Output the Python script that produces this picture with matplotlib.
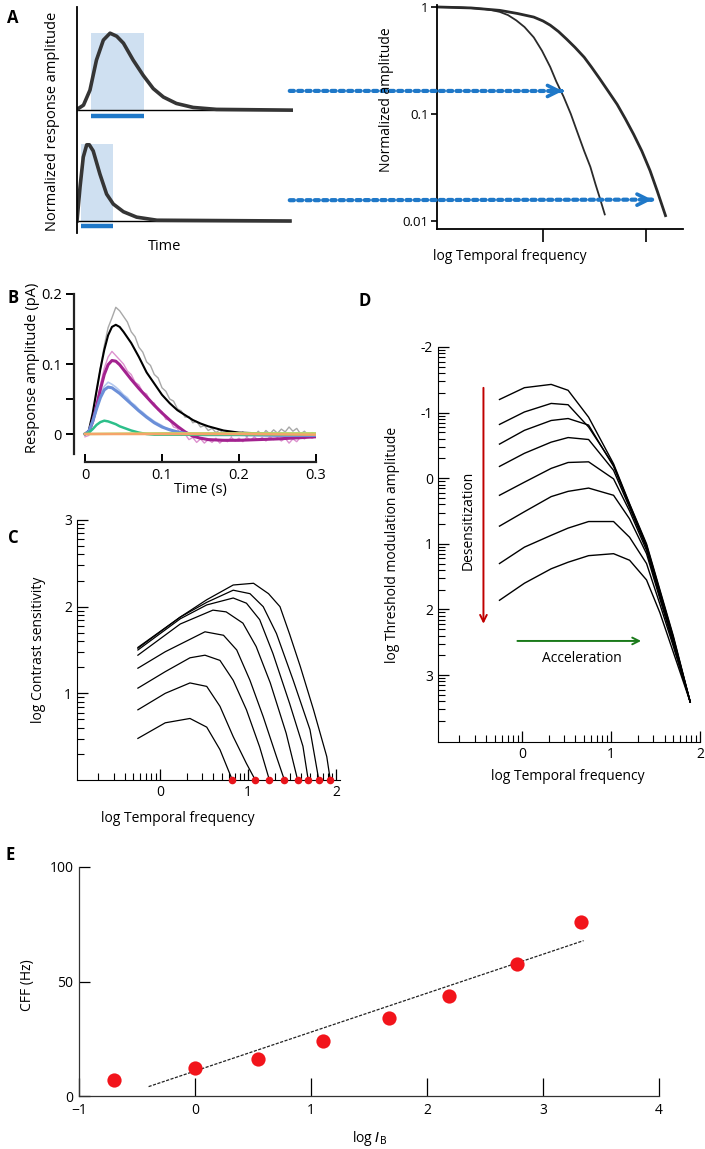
import numpy as np
import matplotlib
matplotlib.use("Agg")
import matplotlib.pyplot as plt
from matplotlib.patches import Rectangle, ConnectionPatch
from matplotlib.ticker import FixedLocator

plt.rcParams["font.family"] = ["Open Sans", "DejaVu Sans"]

W, H = 705, 1149

# ---------------- data ----------------
# A (left): normalized responses, slow (top) and fast (bottom)
a_slow_t = [0.0, 0.03, 0.06, 0.09, 0.122, 0.153, 0.184, 0.215, 0.26, 0.307, 0.353, 0.40, 0.46, 0.538, 0.646, 1.0]
a_slow_y = [0.01, 0.065, 0.26, 0.65, 0.91, 1.0, 0.96, 0.87, 0.65, 0.45, 0.28, 0.17, 0.087, 0.035, 0.01, 0.0]
a_fast_t = [0.0, 0.014, 0.029, 0.045, 0.057, 0.075, 0.106, 0.137, 0.168, 0.215, 0.276, 0.37, 0.986]
a_fast_y = [0.0, 0.44, 0.83, 0.99, 0.99, 0.91, 0.61, 0.35, 0.22, 0.12, 0.05, 0.01, 0.0]
a_slow_window = [0.063, 0.31]
a_fast_window = [0.017, 0.165]
a_offset = 1.44

# A (right): normalized amplitude vs log temporal frequency
ar_fast_x = [-0.02, 0.2, 0.42, 0.5, 0.58, 0.66, 0.74, 0.82, 0.91, 0.99, 1.07, 1.13, 1.20,
             1.27, 1.33, 1.40, 1.46, 1.51, 1.55, 1.60]
ar_fast_y = [1.0, 0.99, 0.96, 0.935, 0.90, 0.84, 0.75, 0.65, 0.52, 0.39, 0.275, 0.20, 0.145,
             0.10, 0.069, 0.045, 0.032, 0.022, 0.0166, 0.0115]
ar_slow_x = [-0.02, 0.3, 0.58, 0.75, 0.91, 1.0, 1.07, 1.15, 1.23, 1.31, 1.40, 1.47, 1.55,
             1.63, 1.72, 1.80, 1.88, 1.96, 2.04, 2.11, 2.19]
ar_slow_y = [1.0, 0.98, 0.93, 0.87, 0.805, 0.74, 0.676, 0.59, 0.50, 0.42, 0.339, 0.275, 0.214,
             0.165, 0.123, 0.09, 0.0646, 0.045, 0.0295, 0.019, 0.0112]

# B: photocurrent responses
b_t_fit = [0, 0.005, 0.01, 0.015, 0.02, 0.025, 0.03, 0.035, 0.04, 0.045, 0.05, 0.06, 0.07,
           0.08, 0.09, 0.10, 0.11, 0.12, 0.13, 0.14, 0.15, 0.16, 0.18, 0.20, 0.25, 0.30]
b_black = [0, 0.005, 0.03, 0.062, 0.093, 0.12, 0.141, 0.153, 0.156, 0.153, 0.146, 0.13, 0.11,
           0.088, 0.072, 0.056, 0.044, 0.034, 0.027, 0.02, 0.015, 0.011, 0.005, 0.002, 0.0, -0.001]
b_purple = [0, 0.003, 0.018, 0.04, 0.064, 0.085, 0.099, 0.105, 0.104, 0.099, 0.092, 0.078, 0.065,
            0.053, 0.041, 0.030, 0.020, 0.011, 0.003, -0.003, -0.006, -0.008, -0.009, -0.009, -0.007, -0.004]
b_blue = [0, 0.004, 0.018, 0.036, 0.052, 0.063, 0.067, 0.066, 0.062, 0.058, 0.053, 0.043, 0.033,
          0.024, 0.016, 0.010, 0.006, 0.003, 0.001, 0.0, -0.001, -0.001, -0.001, -0.001, -0.002, -0.002]
b_green = [0, 0.002, 0.007, 0.013, 0.017, 0.019, 0.018, 0.016, 0.014, 0.011, 0.009, 0.005, 0.002,
           0.0, -0.001, -0.001, -0.001, -0.001, -0.001, -0.001, -0.001, -0.001, -0.001, -0.001, -0.001, -0.001]
b_t_flat = [0.0, 0.1, 0.2, 0.3]
b_lime = [0.0, 0.001, 0.001, 0.001]
b_orange = [0.0, 0.0, 0.0, -0.001]

b_t_raw = np.linspace(0, 0.3, 61)
b_grey_raw = [0.000, 0.004, 0.026, 0.060, 0.094, 0.126, 0.152, 0.166, 0.181, 0.176, 0.168, 0.160,
              0.146, 0.139, 0.124, 0.117, 0.103, 0.098, 0.085, 0.080, 0.066, 0.061, 0.050, 0.047,
              0.036, 0.033, 0.024, 0.025, 0.016, 0.018, 0.010, 0.012, 0.005, 0.008, 0.002, 0.006,
              0.000, 0.004, -0.003, 0.002, -0.002, 0.003, -0.004, 0.002, -0.003, 0.004, -0.002,
              0.005, 0.000, 0.006, 0.001, 0.007, 0.003, 0.010, 0.004, 0.008, 0.000, 0.004, -0.002,
              0.002, -0.001]
b_pink_raw = [-0.004, -0.002, 0.016, 0.042, 0.070, 0.094, 0.110, 0.118, 0.112, 0.106, 0.100, 0.090,
              0.085, 0.074, 0.070, 0.060, 0.057, 0.046, 0.044, 0.034, 0.032, 0.021, 0.020, 0.010,
              0.008, -0.002, 0.000, -0.008, -0.005, -0.012, -0.007, -0.013, -0.008, -0.012, -0.006,
              -0.013, -0.008, -0.011, -0.005, -0.010, -0.006, -0.011, -0.005, -0.009, -0.004, -0.009,
              -0.005, -0.010, -0.004, -0.008, -0.005, -0.010, -0.006, -0.013, -0.007, -0.011, -0.004,
              -0.007, -0.003, -0.006, -0.003]
b_t_lb = np.linspace(0, 0.15, 31)
b_lightblue_raw = [0.0, 0.004, 0.02, 0.04, 0.057, 0.068, 0.074, 0.071, 0.067, 0.062, 0.056, 0.052,
                   0.045, 0.041, 0.035, 0.031, 0.026, 0.022, 0.018, 0.015, 0.012, 0.008, 0.007,
                   0.004, 0.004, 0.001, 0.002, -0.001, 0.001, -0.002, 0.0]

# C: log contrast sensitivity vs log temporal frequency (8 retinal illuminances)
c_x = [
    [-0.25, 0.23, 0.53, 0.83, 1.06, 1.23, 1.36, 1.47, 1.59, 1.74, 1.89, 1.93],
    [-0.25, 0.23, 0.53, 0.83, 1.02, 1.17, 1.32, 1.51, 1.70, 1.80],
    [-0.25, 0.23, 0.53, 0.83, 0.98, 1.13, 1.28, 1.47, 1.62, 1.68],
    [-0.25, 0.23, 0.60, 0.75, 0.94, 1.09, 1.25, 1.43, 1.56],
    [-0.25, 0.06, 0.51, 0.72, 0.87, 1.02, 1.17, 1.32, 1.41],
    [-0.25, 0.06, 0.34, 0.51, 0.68, 0.83, 0.98, 1.13, 1.24],
    [-0.25, 0.06, 0.34, 0.53, 0.68, 0.83, 0.98, 1.08],
    [-0.25, 0.06, 0.34, 0.53, 0.68, 0.82],
]
c_y = [
    [1.53, 1.88, 2.08, 2.25, 2.27, 2.15, 2.00, 1.68, 1.31, 0.81, 0.27, 0.0],
    [1.52, 1.88, 2.05, 2.19, 2.15, 2.00, 1.69, 1.15, 0.58, 0.0],
    [1.50, 1.86, 2.02, 2.10, 2.04, 1.85, 1.46, 0.88, 0.39, 0.0],
    [1.44, 1.80, 1.96, 1.94, 1.81, 1.54, 1.12, 0.54, 0.0],
    [1.29, 1.48, 1.71, 1.67, 1.50, 1.15, 0.73, 0.27, 0.0],
    [1.06, 1.25, 1.41, 1.44, 1.38, 1.15, 0.81, 0.38, 0.0],
    [0.81, 1.00, 1.12, 1.08, 0.85, 0.50, 0.19, 0.0],
    [0.48, 0.66, 0.71, 0.61, 0.35, 0.0],
]
c_cff = [0.82, 1.08, 1.24, 1.41, 1.56, 1.68, 1.80, 1.93]

# D: log threshold modulation amplitude vs log temporal frequency
d_x = [-0.25, 0.03, 0.33, 0.52, 0.75, 1.03, 1.21, 1.40, 1.55, 1.70, 1.89]
d_y = [
    [-1.20, -1.38, -1.43, -1.34, -0.93, -0.22, 0.39, 1.00, 1.70, 2.40, 3.41],
    [-0.82, -1.01, -1.14, -1.12, -0.78, -0.20, 0.40, 1.02, 1.72, 2.42, 3.41],
    [-0.52, -0.73, -0.88, -0.91, -0.81, -0.18, 0.42, 1.04, 1.74, 2.44, 3.41],
    [-0.18, -0.38, -0.55, -0.62, -0.59, -0.12, 0.45, 1.06, 1.76, 2.46, 3.41],
    [0.26, 0.06, -0.15, -0.24, -0.25, 0.01, 0.50, 1.10, 1.80, 2.50, 3.41],
    [0.73, 0.51, 0.28, 0.20, 0.15, 0.26, 0.62, 1.15, 1.84, 2.52, 3.41],
    [1.30, 1.05, 0.87, 0.76, 0.66, 0.66, 0.90, 1.30, 1.92, 2.56, 3.41],
    [1.86, 1.60, 1.38, 1.28, 1.18, 1.15, 1.25, 1.55, 2.05, 2.65, 3.41],
]

# E: critical flicker fusion frequency vs log background intensity
e_logI = [-0.70, 0.0, 0.54, 1.10, 1.67, 2.19, 2.78, 3.33]
e_cff = [7.0, 12.1, 16.0, 23.8, 34.0, 43.7, 57.7, 75.9]
e_fit_slope = 17.0
e_fit_intercept = 10.9
e_fit_range = [-0.4, 3.35]

# ---------------- helpers ----------------
fig = plt.figure(figsize=(W / 100, H / 100), dpi=100)


def px_axes(x0, y0, x1, y1):
    return fig.add_axes([x0 / W, 1 - y1 / H, (x1 - x0) / W, (y1 - y0) / H])


def ftext(px, py, s, **kw):
    kw.setdefault("ha", "center")
    kw.setdefault("va", "center")
    fig.text(px / W, 1 - py / H, s, **kw)


def log_minor(lo, hi, flip=False):
    out = []
    for d in range(int(np.floor(lo)) - 1, int(np.ceil(hi)) + 1):
        for k in range(2, 10):
            v = d + (1 - np.log10(k) if flip else np.log10(k))
            if lo <= v <= hi:
                out.append(v)
    return out


blue = "#1f78c8"

# ---------------- panel A left ----------------
axL = px_axes(77, 7, 293, 233)
axL.set_xlim(0, 1.0)
axL.set_ylim(-0.156, 2.78)
for s in ["top", "right", "bottom"]:
    axL.spines[s].set_visible(False)
axL.spines["left"].set_linewidth(1.3)
axL.set_xticks([])
axL.set_yticks([])
for win, base in [(a_slow_window, a_offset), (a_fast_window, 0.0)]:
    axL.add_patch(Rectangle((win[0], base), win[1] - win[0], 1.0, color="#cfe0f1", lw=0, zorder=0))
    axL.plot(win, [base - 0.07, base - 0.07], color=blue, lw=3.2, solid_capstyle="butt")
axL.plot([0, 1.0], [a_offset, a_offset], color="black", lw=1.0)
axL.plot([0, 0.986], [0, 0], color="black", lw=1.0)
axL.plot(a_slow_t, np.array(a_slow_y) + a_offset, color="#353535", lw=2.6)
axL.plot(a_fast_t, a_fast_y, color="#353535", lw=2.6)
ftext(53, 121, "Normalized response amplitude", rotation=90, fontsize=10.5)
ftext(165, 246, "Time", fontsize=10.5)
ftext(13, 18, "A", fontsize=12, fontweight="bold")

# ---------------- panel A right ----------------
axR = px_axes(437, 5, 683, 229)
axR.set_yscale("log")
axR.set_xlim(-0.03, 2.36)
axR.set_ylim(0.0084, 1.044)
for s in ["top", "right"]:
    axR.spines[s].set_visible(False)
for s in ["left", "bottom"]:
    axR.spines[s].set_linewidth(1.3)
axR.plot(ar_fast_x, ar_fast_y, color="#2a2a2a", lw=1.3)
axR.plot(ar_slow_x, ar_slow_y, color="#2a2a2a", lw=2.0)
axR.set_yticks([1, 0.1, 0.01])
axR.set_yticklabels(["1", "0.1", "0.01"], fontsize=9.5)
axR.yaxis.set_minor_locator(FixedLocator([]))
axR.set_xticks([1.0, 2.0])
axR.set_xticklabels([])
axR.tick_params(axis="y", direction="out", length=4, width=1.2, pad=2)
axR.tick_params(axis="x", direction="out", length=9, width=1.2)
ftext(387, 100, "Normalized amplitude", rotation=90, fontsize=10)
ftext(510, 256, "log Temporal frequency", fontsize=10)

# dotted arrows linking the two sides of A
for yL, tip in [(1.69, (1.19, 0.164)), (0.27, (2.06, 0.0158))]:
    con = ConnectionPatch(xyA=(0.985, yL), coordsA=axL.transData, xyB=tip, coordsB=axR.transData,
                          color=blue, lw=3, linestyle=(0, (1, 1)))
    fig.add_artist(con)
    axR.annotate("", xy=tip, xytext=(tip[0] - 0.01, tip[1]),
                 arrowprops=dict(arrowstyle="->", color=blue, lw=2.6, mutation_scale=20,
                                 shrinkA=0, shrinkB=0))

# ---------------- panel B ----------------
axB = px_axes(74, 294, 316, 462)
axB.set_xlim(-0.0143, 0.3)
axB.set_ylim(-0.04, 0.2)
for s in ["top", "right"]:
    axB.spines[s].set_visible(False)
axB.spines["left"].set_bounds(-0.028, 0.2)
axB.spines["bottom"].set_bounds(0, 0.3)
for s in ["left", "bottom"]:
    axB.spines[s].set_linewidth(1.6)
    axB.spines[s].set_color("#222222")
axB.plot(b_t_raw, b_grey_raw, color="#a8a8a8", lw=1.0)
axB.plot(b_t_raw, b_pink_raw, color="#dd92cf", lw=1.0)
axB.plot(b_t_lb, b_lightblue_raw, color="#b4c8ee", lw=1.2)
axB.plot(b_t_fit, b_black, color="black", lw=1.5)
axB.plot(b_t_fit, b_purple, color="#a3228f", lw=2.2)
axB.plot(b_t_fit, b_blue, color="#6b8fd8", lw=2.2)
axB.plot(b_t_fit, b_green, color="#2dbf8a", lw=1.8)
axB.plot(b_t_flat, b_lime, color="#b7d86a", lw=1.8)
axB.plot(b_t_flat, b_orange, color="#f5a469", lw=1.8)
axB.set_yticks([0, 0.05, 0.1, 0.15, 0.2])
axB.set_yticklabels(["0", "", "0.1", "", "0.2"], fontsize=10.5)
axB.set_xticks([0, 0.1, 0.2, 0.3])
axB.set_xticklabels(["0", "0.1", "0.2", "0.3"], fontsize=10.5)
axB.tick_params(axis="y", direction="out", length=6, width=1.4, pad=3)
axB.tick_params(axis="x", direction="in", length=6, width=1.4, pad=4)
ftext(33, 368, "Response amplitude (pA)", rotation=90, fontsize=10.5)
ftext(200, 490, "Time (s)", fontsize=10.5)
ftext(13, 298, "B", fontsize=12, fontweight="bold")

# ---------------- panel C ----------------
axC = px_axes(77, 520, 340, 780)
axC.set_xlim(-0.94, 2.04)
axC.set_ylim(0, 3)
for s in ["top", "right"]:
    axC.spines[s].set_visible(False)
for xs, ys in zip(c_x, c_y):
    axC.plot(xs, ys, color="black", lw=0.9)
axC.scatter(c_cff, [0] * len(c_cff), s=30, color="#e8141b", zorder=5, clip_on=False, lw=0)
axC.set_xticks([0, 1, 2])
axC.set_xticklabels(["0", "1", "2"], fontsize=10)
axC.xaxis.set_minor_locator(FixedLocator(log_minor(-0.94, 2.04)))
axC.set_yticks([1, 2, 3])
axC.set_yticklabels(["1", "2", "3"], fontsize=10)
axC.yaxis.set_minor_locator(FixedLocator(log_minor(0, 3)))
axC.tick_params(which="major", direction="in", length=8, width=0.9)
axC.tick_params(which="minor", direction="in", length=5, width=0.8)
ftext(39, 650, "log Contrast sensitivity", rotation=90, fontsize=10)
ftext(178, 818, "log Temporal frequency", fontsize=10)
ftext(13, 538, "C", fontsize=12, fontweight="bold")

# ---------------- panel D ----------------
axD = px_axes(438, 347, 700, 742)
axD.set_xlim(-0.94, 2.0)
axD.set_ylim(4.02, -2)
for s in ["top", "right"]:
    axD.spines[s].set_visible(False)
for ys in d_y:
    axD.plot(d_x, ys, color="black", lw=1.0)
axD.set_xticks([0, 1, 2])
axD.set_xticklabels(["0", "1", "2"], fontsize=10)
axD.xaxis.set_minor_locator(FixedLocator(log_minor(-0.94, 2.0)))
axD.set_yticks([-2, -1, 0, 1, 2, 3])
axD.set_yticklabels(["-2", "-1", "0", "1", "2", "3"], fontsize=10)
axD.yaxis.set_minor_locator(FixedLocator(log_minor(-2, 4.02, flip=True)))
axD.tick_params(which="major", direction="in", length=8, width=0.9)
axD.tick_params(which="minor", direction="in", length=5, width=0.8)
axD.annotate("", xy=(-0.43, 2.26), xytext=(-0.43, -1.42),
             arrowprops=dict(arrowstyle="->", color="#c00000", lw=1.4, mutation_scale=12))
axD.text(-0.60, 0.64, "Desensitization", rotation=90, ha="center", va="center", fontsize=10)
axD.annotate("", xy=(1.37, 2.48), xytext=(-0.08, 2.48),
             arrowprops=dict(arrowstyle="->", color="#1a7a1a", lw=1.4, mutation_scale=12))
axD.text(0.68, 2.75, "Acceleration", ha="center", va="center", fontsize=10)
ftext(393, 545, "log Threshold modulation amplitude", rotation=90, fontsize=10)
ftext(568, 776, "log Temporal frequency", fontsize=10)
ftext(365, 301, "D", fontsize=12, fontweight="bold")

# ---------------- panel E ----------------
axE = px_axes(79, 867, 659, 1096)
axE.set_xlim(-1, 4)
axE.set_ylim(0, 100)
for s in ["top", "right"]:
    axE.spines[s].set_visible(False)
for s in ["left", "bottom"]:
    axE.spines[s].set_linewidth(0.9)
    axE.spines[s].set_color("#333333")
fx = np.array(e_fit_range)
axE.plot(fx, e_fit_intercept + e_fit_slope * fx, color="#222222", lw=0.9, linestyle=(0, (2.5, 1.2)))
axE.scatter(e_logI, e_cff, s=105, color="#f2141b", zorder=5, lw=0)
axE.set_xticks([-1, 0, 1, 2, 3, 4])
axE.set_xticklabels(["\u22121", "0", "1", "2", "3", "4"], fontsize=10)
axE.set_yticks([0, 50, 100])
axE.set_yticklabels(["0", "50", "100"], fontsize=10)
axE.tick_params(axis="x", direction="in", length=13, width=0.9, pad=5)
axE.tick_params(axis="y", direction="in", length=8, width=0.9, pad=4)
ftext(28, 985, "CFF (Hz)", rotation=90, fontsize=10)
ftext(370, 1138, r"log $I_{\mathrm{B}}$", fontsize=10)
ftext(10, 855, "E", fontsize=12, fontweight="bold")

fig.savefig("out.png", dpi=100)
print("Saved out.png")
